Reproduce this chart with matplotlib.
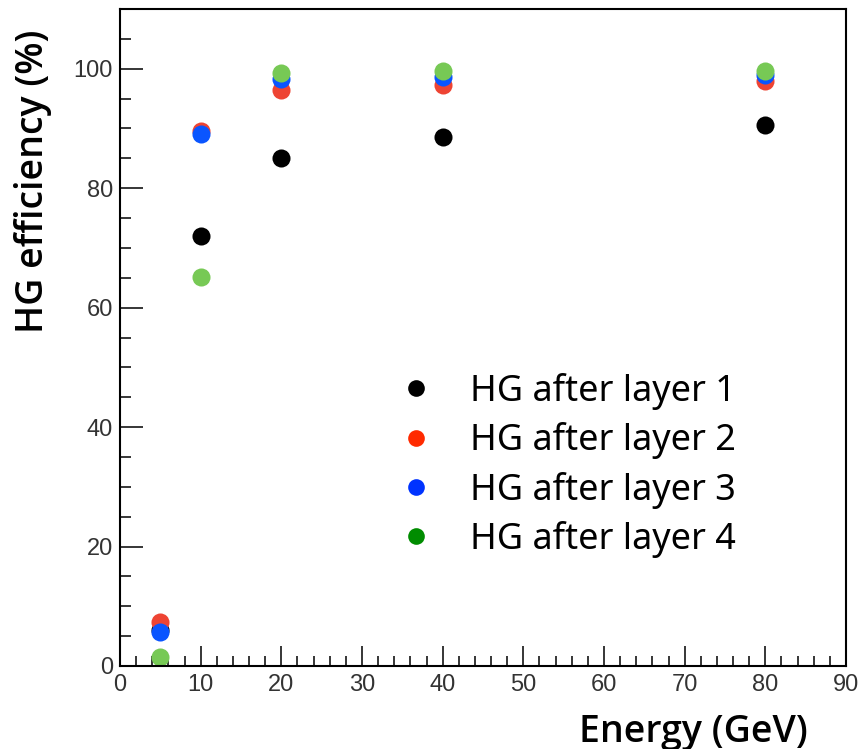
import matplotlib
matplotlib.use("Agg")
import matplotlib.pyplot as plt
from matplotlib.lines import Line2D
from matplotlib.ticker import MultipleLocator

# beam energies (GeV)
energy = [5, 10, 20, 40, 80]

# HG efficiency (%) after each layer
eff_l1 = [6.0, 72.0, 85.0, 88.6, 90.6]
eff_l2 = [7.3, 89.6, 96.4, 97.2, 98.0]
eff_l3 = [5.7, 89.0, 98.2, 98.6, 98.9]
eff_l4 = [1.5, 65.2, 99.3, 99.7, 99.7]

labels = ["HG after layer 1", "HG after layer 2", "HG after layer 3", "HG after layer 4"]
point_colors = ["#000000", "#ee4433", "#0a55ff", "#77c955"]
legend_colors = ["#000000", "#ff2a00", "#0033ff", "#008c00"]

title_font = ["Open Sans", "DejaVu Sans"]
legend_font = ["Noto Sans", "DejaVu Sans"]
tick_font = ["Liberation Sans", "DejaVu Sans"]

fig = plt.figure(figsize=(8.61, 7.49), dpi=100)
ax = fig.add_axes([120 / 861, 1 - 666 / 749, 726 / 861, 657 / 749])

for ys, c in zip([eff_l1, eff_l2, eff_l3, eff_l4], point_colors):
    ax.plot(energy, ys, "o", color=c, markersize=13, markeredgewidth=0, linestyle="none")

ax.set_xlim(0, 90)
ax.set_ylim(0, 110)
ax.xaxis.set_major_locator(MultipleLocator(10))
ax.xaxis.set_minor_locator(MultipleLocator(2))
ax.yaxis.set_major_locator(MultipleLocator(20))
ax.yaxis.set_minor_locator(MultipleLocator(5))

for s in ax.spines.values():
    s.set_linewidth(1.5)
ax.tick_params(axis="both", which="both", direction="in", top=False, right=False,
               width=1.1, colors="black", labelcolor="#333333")
ax.tick_params(axis="y", which="major", length=16.5, pad=5)
ax.tick_params(axis="y", which="minor", length=8)
ax.tick_params(axis="x", which="major", length=14.5, pad=6)
ax.tick_params(axis="x", which="minor", length=7)
for lab in ax.get_xticklabels() + ax.get_yticklabels():
    lab.set_fontfamily(tick_font)
    lab.set_fontsize(17)

ax.set_xlabel("Energy (GeV)", family=title_font, fontsize=27, weight=600, loc="right")
ax.xaxis.set_label_coords((808 - 120) / 726, -0.071)
ax.set_ylabel("HG efficiency (%)", family=title_font, fontsize=27, weight=600, loc="top")
ax.yaxis.set_label_coords(-0.094, (666 - 30) / 657)

handles = [Line2D([], [], marker="o", linestyle="none", color=c, markersize=12,
                  markeredgewidth=0) for c in legend_colors]
leg = ax.legend(handles, labels, loc="upper left", frameon=False,
                bbox_to_anchor=(398 / 861, 1 - 373 / 749), bbox_transform=fig.transFigure,
                prop={"family": legend_font, "size": 26}, handlelength=1.0,
                handletextpad=1.0, labelspacing=0.34, borderpad=0, borderaxespad=0)

fig.savefig("out.png", dpi=100)
